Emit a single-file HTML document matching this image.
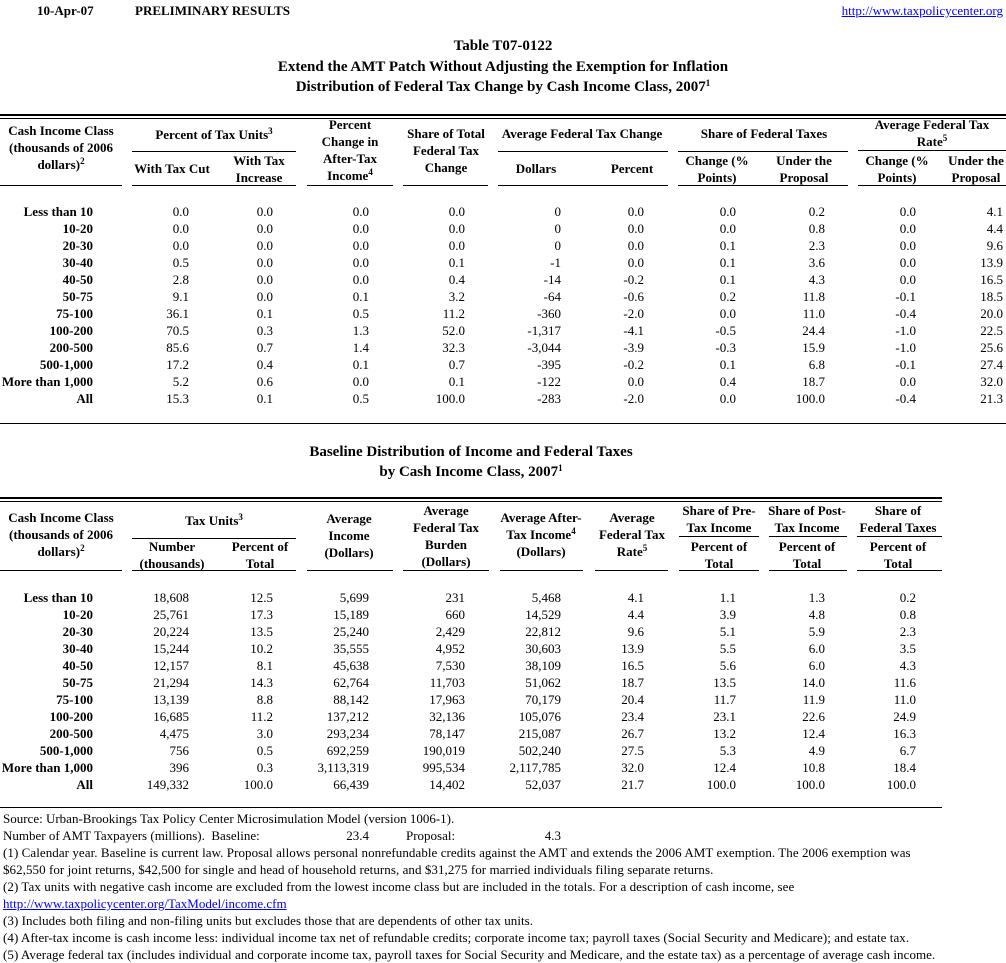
<!DOCTYPE html>
<html><head><meta charset="utf-8">
<style>
*{margin:0;padding:0;box-sizing:border-box}
body{width:1006px;height:962px;overflow:hidden;background:#fff;font-family:"Liberation Serif","Times New Roman",serif;font-size:13px;color:#000;position:relative}
.t{position:absolute;white-space:nowrap;line-height:17px;font-size:13px}
.b{font-weight:bold}
.cen{text-align:center;width:200px}
.ttl{position:absolute;left:0;width:1006px;text-align:center;font-weight:bold;font-size:15px;line-height:20px;white-space:nowrap}
.ttl2{position:absolute;left:0;width:942px;text-align:center;font-weight:bold;font-size:15px;line-height:20px;white-space:nowrap}
.ln{position:absolute;background:#000;height:1px}
.row{position:absolute;left:0;width:1006px;height:17px;line-height:17px}
.row span{position:absolute;white-space:nowrap;top:0}
.c0{right:913px;font-weight:bold}
.c1{right:817px}.c2{right:733px}.c3{right:637px}.c4{right:541px}.c5{right:445px}
.c6{right:362px}.c7{right:270px}.c8{right:181px}.c9{right:90px}.c10{right:3px}
sup{font-size:9px;vertical-align:5px;line-height:0}
.lk{color:#0000ff;text-decoration:underline}
.fn{position:absolute;left:3px;white-space:nowrap;line-height:17px;font-size:13px}
.ls{letter-spacing:0.06px}
</style></head><body>

<div class="t b" style="left:37px;top:2px">10-Apr-07</div>
<div class="t b" style="left:135px;top:2px">PRELIMINARY RESULTS</div>
<div class="t lk" style="right:3px;top:2px">http://www.taxpolicycenter.org</div>

<div class="ttl" style="top:36px">Table T07-0122</div>
<div class="ttl" style="top:57px">Extend the AMT Patch Without Adjusting the Exemption for Inflation</div>
<div class="ttl" style="top:77px">Distribution of Federal Tax Change by Cash Income Class, 2007<sup>1</sup></div>

<div class="ln" style="left:0;width:1006px;top:114px;height:2px"></div>
<div class="ln" style="left:0;width:1006px;top:118px"></div>

<!-- top header -->
<div class="t b cen" style="left:-39px;top:122px">Cash Income Class</div>
<div class="t b cen" style="left:-39px;top:139px">(thousands of 2006</div>
<div class="t b cen" style="left:-39px;top:156px">dollars)<sup>2</sup></div>

<div class="t b cen" style="left:114px;top:126px">Percent of Tax Units<sup>3</sup></div>
<div class="t b cen" style="left:72px;top:160px">With Tax Cut</div>
<div class="t b cen" style="left:159px;top:152px">With Tax</div>
<div class="t b cen" style="left:159px;top:169px">Increase</div>

<div class="t b cen" style="left:250px;top:116px">Percent</div>
<div class="t b cen" style="left:250px;top:133px">Change in</div>
<div class="t b cen" style="left:250px;top:150px">After-Tax</div>
<div class="t b cen" style="left:250px;top:167px">Income<sup>4</sup></div>

<div class="t b cen" style="left:346px;top:125px">Share of Total</div>
<div class="t b cen" style="left:346px;top:142px">Federal Tax</div>
<div class="t b cen" style="left:346px;top:159px">Change</div>

<div class="t b cen" style="left:482px;top:125px">Average Federal Tax Change</div>
<div class="t b cen" style="left:436px;top:160px">Dollars</div>
<div class="t b cen" style="left:532px;top:160px">Percent</div>

<div class="t b cen" style="left:664px;top:125px">Share of Federal Taxes</div>
<div class="t b cen" style="left:617px;top:152px">Change (%</div>
<div class="t b cen" style="left:617px;top:169px">Points)</div>
<div class="t b cen" style="left:704px;top:152px">Under the</div>
<div class="t b cen" style="left:704px;top:169px">Proposal</div>

<div class="t b cen" style="left:832px;top:116px">Average Federal Tax</div>
<div class="t b cen" style="left:832px;top:133px">Rate<sup>5</sup></div>
<div class="t b cen" style="left:797px;top:152px">Change (%</div>
<div class="t b cen" style="left:797px;top:169px">Points)</div>
<div class="t b cen" style="left:876px;top:152px">Under the</div>
<div class="t b cen" style="left:876px;top:169px">Proposal</div>

<div class="ln" style="left:132px;width:164px;top:151px"></div>
<div class="ln" style="left:498px;width:170px;top:151px"></div>
<div class="ln" style="left:678px;width:170px;top:151px"></div>
<div class="ln" style="left:858px;width:148px;top:150px"></div>

<div class="ln" style="left:0;width:122px;top:185px"></div>
<div class="ln" style="left:132px;width:164px;top:185px"></div>
<div class="ln" style="left:307px;width:86px;top:185px"></div>
<div class="ln" style="left:403px;width:85px;top:185px"></div>
<div class="ln" style="left:498px;width:170px;top:185px"></div>
<div class="ln" style="left:678px;width:170px;top:185px"></div>
<div class="ln" style="left:858px;width:148px;top:185px"></div>

<!-- top data -->
<div class="row" style="top:203px"><span class="c0">Less than 10</span><span class="c1">0.0</span><span class="c2">0.0</span><span class="c3">0.0</span><span class="c4">0.0</span><span class="c5">0</span><span class="c6">0.0</span><span class="c7">0.0</span><span class="c8">0.2</span><span class="c9">0.0</span><span class="c10">4.1</span></div>
<div class="row" style="top:220px"><span class="c0">10-20</span><span class="c1">0.0</span><span class="c2">0.0</span><span class="c3">0.0</span><span class="c4">0.0</span><span class="c5">0</span><span class="c6">0.0</span><span class="c7">0.0</span><span class="c8">0.8</span><span class="c9">0.0</span><span class="c10">4.4</span></div>
<div class="row" style="top:237px"><span class="c0">20-30</span><span class="c1">0.0</span><span class="c2">0.0</span><span class="c3">0.0</span><span class="c4">0.0</span><span class="c5">0</span><span class="c6">0.0</span><span class="c7">0.1</span><span class="c8">2.3</span><span class="c9">0.0</span><span class="c10">9.6</span></div>
<div class="row" style="top:254px"><span class="c0">30-40</span><span class="c1">0.5</span><span class="c2">0.0</span><span class="c3">0.0</span><span class="c4">0.1</span><span class="c5">-1</span><span class="c6">0.0</span><span class="c7">0.1</span><span class="c8">3.6</span><span class="c9">0.0</span><span class="c10">13.9</span></div>
<div class="row" style="top:271px"><span class="c0">40-50</span><span class="c1">2.8</span><span class="c2">0.0</span><span class="c3">0.0</span><span class="c4">0.4</span><span class="c5">-14</span><span class="c6">-0.2</span><span class="c7">0.1</span><span class="c8">4.3</span><span class="c9">0.0</span><span class="c10">16.5</span></div>
<div class="row" style="top:288px"><span class="c0">50-75</span><span class="c1">9.1</span><span class="c2">0.0</span><span class="c3">0.1</span><span class="c4">3.2</span><span class="c5">-64</span><span class="c6">-0.6</span><span class="c7">0.2</span><span class="c8">11.8</span><span class="c9">-0.1</span><span class="c10">18.5</span></div>
<div class="row" style="top:305px"><span class="c0">75-100</span><span class="c1">36.1</span><span class="c2">0.1</span><span class="c3">0.5</span><span class="c4">11.2</span><span class="c5">-360</span><span class="c6">-2.0</span><span class="c7">0.0</span><span class="c8">11.0</span><span class="c9">-0.4</span><span class="c10">20.0</span></div>
<div class="row" style="top:322px"><span class="c0">100-200</span><span class="c1">70.5</span><span class="c2">0.3</span><span class="c3">1.3</span><span class="c4">52.0</span><span class="c5">-1,317</span><span class="c6">-4.1</span><span class="c7">-0.5</span><span class="c8">24.4</span><span class="c9">-1.0</span><span class="c10">22.5</span></div>
<div class="row" style="top:339px"><span class="c0">200-500</span><span class="c1">85.6</span><span class="c2">0.7</span><span class="c3">1.4</span><span class="c4">32.3</span><span class="c5">-3,044</span><span class="c6">-3.9</span><span class="c7">-0.3</span><span class="c8">15.9</span><span class="c9">-1.0</span><span class="c10">25.6</span></div>
<div class="row" style="top:356px"><span class="c0">500-1,000</span><span class="c1">17.2</span><span class="c2">0.4</span><span class="c3">0.1</span><span class="c4">0.7</span><span class="c5">-395</span><span class="c6">-0.2</span><span class="c7">0.1</span><span class="c8">6.8</span><span class="c9">-0.1</span><span class="c10">27.4</span></div>
<div class="row" style="top:373px"><span class="c0">More than 1,000</span><span class="c1">5.2</span><span class="c2">0.6</span><span class="c3">0.0</span><span class="c4">0.1</span><span class="c5">-122</span><span class="c6">0.0</span><span class="c7">0.4</span><span class="c8">18.7</span><span class="c9">0.0</span><span class="c10">32.0</span></div>
<div class="row" style="top:390px"><span class="c0">All</span><span class="c1">15.3</span><span class="c2">0.1</span><span class="c3">0.5</span><span class="c4">100.0</span><span class="c5">-283</span><span class="c6">-2.0</span><span class="c7">0.0</span><span class="c8">100.0</span><span class="c9">-0.4</span><span class="c10">21.3</span></div>

<div class="ln" style="left:0;width:1006px;top:423px"></div>

<!-- second table -->
<div class="ttl2" style="top:442px">Baseline Distribution of Income and Federal Taxes</div>
<div class="ttl2" style="top:462px">by Cash Income Class, 2007<sup>1</sup></div>

<div class="ln" style="left:0;width:942px;top:497px;height:2px"></div>
<div class="ln" style="left:0;width:942px;top:501px"></div>

<div class="t b cen" style="left:-39px;top:509px">Cash Income Class</div>
<div class="t b cen" style="left:-39px;top:526px">(thousands of 2006</div>
<div class="t b cen" style="left:-39px;top:543px">dollars)<sup>2</sup></div>

<div class="t b cen" style="left:114px;top:512px">Tax Units<sup>3</sup></div>
<div class="t b cen" style="left:72px;top:538px">Number</div>
<div class="t b cen" style="left:72px;top:555px">(thousands)</div>
<div class="t b cen" style="left:160px;top:538px">Percent of</div>
<div class="t b cen" style="left:160px;top:555px">Total</div>

<div class="t b cen" style="left:249px;top:510px">Average</div>
<div class="t b cen" style="left:249px;top:527px">Income</div>
<div class="t b cen" style="left:249px;top:544px">(Dollars)</div>

<div class="t b cen" style="left:346px;top:502px">Average</div>
<div class="t b cen" style="left:346px;top:519px">Federal Tax</div>
<div class="t b cen" style="left:346px;top:536px">Burden</div>
<div class="t b cen" style="left:346px;top:553px">(Dollars)</div>

<div class="t b cen" style="left:441px;top:509px">Average After-</div>
<div class="t b cen" style="left:441px;top:526px">Tax Income<sup>4</sup></div>
<div class="t b cen" style="left:441px;top:543px">(Dollars)</div>

<div class="t b cen" style="left:532px;top:509px">Average</div>
<div class="t b cen" style="left:532px;top:526px">Federal Tax</div>
<div class="t b cen" style="left:532px;top:543px">Rate<sup>5</sup></div>

<div class="t b cen" style="left:619px;top:502px">Share of Pre-</div>
<div class="t b cen" style="left:619px;top:519px">Tax Income</div>
<div class="t b cen" style="left:619px;top:538px">Percent of</div>
<div class="t b cen" style="left:619px;top:555px">Total</div>

<div class="t b cen" style="left:707px;top:502px">Share of Post-</div>
<div class="t b cen" style="left:707px;top:519px">Tax Income</div>
<div class="t b cen" style="left:707px;top:538px">Percent of</div>
<div class="t b cen" style="left:707px;top:555px">Total</div>

<div class="t b cen" style="left:798px;top:502px">Share of</div>
<div class="t b cen" style="left:798px;top:519px">Federal Taxes</div>
<div class="t b cen" style="left:798px;top:538px">Percent of</div>
<div class="t b cen" style="left:798px;top:555px">Total</div>

<div class="ln" style="left:132px;width:164px;top:538px"></div>
<div class="ln" style="left:679px;width:80px;top:536px"></div>
<div class="ln" style="left:769px;width:78px;top:536px"></div>
<div class="ln" style="left:857px;width:85px;top:536px"></div>

<div class="ln" style="left:0;width:122px;top:570px"></div>
<div class="ln" style="left:132px;width:164px;top:570px"></div>
<div class="ln" style="left:307px;width:86px;top:570px"></div>
<div class="ln" style="left:403px;width:86px;top:570px"></div>
<div class="ln" style="left:500px;width:83px;top:570px"></div>
<div class="ln" style="left:595px;width:73px;top:570px"></div>
<div class="ln" style="left:679px;width:80px;top:570px"></div>
<div class="ln" style="left:769px;width:78px;top:570px"></div>
<div class="ln" style="left:857px;width:85px;top:570px"></div>

<div class="row" style="top:589px"><span class="c0">Less than 10</span><span class="c1">18,608</span><span class="c2">12.5</span><span class="c3">5,699</span><span class="c4">231</span><span class="c5">5,468</span><span class="c6">4.1</span><span class="c7">1.1</span><span class="c8">1.3</span><span class="c9">0.2</span></div>
<div class="row" style="top:606px"><span class="c0">10-20</span><span class="c1">25,761</span><span class="c2">17.3</span><span class="c3">15,189</span><span class="c4">660</span><span class="c5">14,529</span><span class="c6">4.4</span><span class="c7">3.9</span><span class="c8">4.8</span><span class="c9">0.8</span></div>
<div class="row" style="top:623px"><span class="c0">20-30</span><span class="c1">20,224</span><span class="c2">13.5</span><span class="c3">25,240</span><span class="c4">2,429</span><span class="c5">22,812</span><span class="c6">9.6</span><span class="c7">5.1</span><span class="c8">5.9</span><span class="c9">2.3</span></div>
<div class="row" style="top:640px"><span class="c0">30-40</span><span class="c1">15,244</span><span class="c2">10.2</span><span class="c3">35,555</span><span class="c4">4,952</span><span class="c5">30,603</span><span class="c6">13.9</span><span class="c7">5.5</span><span class="c8">6.0</span><span class="c9">3.5</span></div>
<div class="row" style="top:657px"><span class="c0">40-50</span><span class="c1">12,157</span><span class="c2">8.1</span><span class="c3">45,638</span><span class="c4">7,530</span><span class="c5">38,109</span><span class="c6">16.5</span><span class="c7">5.6</span><span class="c8">6.0</span><span class="c9">4.3</span></div>
<div class="row" style="top:674px"><span class="c0">50-75</span><span class="c1">21,294</span><span class="c2">14.3</span><span class="c3">62,764</span><span class="c4">11,703</span><span class="c5">51,062</span><span class="c6">18.7</span><span class="c7">13.5</span><span class="c8">14.0</span><span class="c9">11.6</span></div>
<div class="row" style="top:691px"><span class="c0">75-100</span><span class="c1">13,139</span><span class="c2">8.8</span><span class="c3">88,142</span><span class="c4">17,963</span><span class="c5">70,179</span><span class="c6">20.4</span><span class="c7">11.7</span><span class="c8">11.9</span><span class="c9">11.0</span></div>
<div class="row" style="top:708px"><span class="c0">100-200</span><span class="c1">16,685</span><span class="c2">11.2</span><span class="c3">137,212</span><span class="c4">32,136</span><span class="c5">105,076</span><span class="c6">23.4</span><span class="c7">23.1</span><span class="c8">22.6</span><span class="c9">24.9</span></div>
<div class="row" style="top:725px"><span class="c0">200-500</span><span class="c1">4,475</span><span class="c2">3.0</span><span class="c3">293,234</span><span class="c4">78,147</span><span class="c5">215,087</span><span class="c6">26.7</span><span class="c7">13.2</span><span class="c8">12.4</span><span class="c9">16.3</span></div>
<div class="row" style="top:742px"><span class="c0">500-1,000</span><span class="c1">756</span><span class="c2">0.5</span><span class="c3">692,259</span><span class="c4">190,019</span><span class="c5">502,240</span><span class="c6">27.5</span><span class="c7">5.3</span><span class="c8">4.9</span><span class="c9">6.7</span></div>
<div class="row" style="top:759px"><span class="c0">More than 1,000</span><span class="c1">396</span><span class="c2">0.3</span><span class="c3">3,113,319</span><span class="c4">995,534</span><span class="c5">2,117,785</span><span class="c6">32.0</span><span class="c7">12.4</span><span class="c8">10.8</span><span class="c9">18.4</span></div>
<div class="row" style="top:776px"><span class="c0">All</span><span class="c1">149,332</span><span class="c2">100.0</span><span class="c3">66,439</span><span class="c4">14,402</span><span class="c5">52,037</span><span class="c6">21.7</span><span class="c7">100.0</span><span class="c8">100.0</span><span class="c9">100.0</span></div>

<div class="ln" style="left:0;width:942px;top:807px"></div>

<!-- footnotes -->
<div class="fn" style="top:810px">Source: Urban-Brookings Tax Policy Center Microsimulation Model (version 1006-1).</div>
<div class="fn" style="top:827px">Number of AMT Taxpayers (millions).&nbsp; Baseline:</div>
<div class="t" style="right:637px;top:827px">23.4</div>
<div class="t" style="left:406px;top:827px">Proposal:</div>
<div class="t" style="right:445px;top:827px">4.3</div>
<div class="fn ls" style="top:844px">(1) Calendar year. Baseline is current law. Proposal allows personal nonrefundable credits against the AMT and extends the 2006 AMT exemption. The 2006 exemption was</div>
<div class="fn ls" style="top:861px">$62,550 for joint returns, $42,500 for single and head of household returns, and $31,275 for married individuals filing separate returns.</div>
<div class="fn ls" style="top:878px">(2) Tax units with negative cash income are excluded from the lowest income class but are included in the totals. For a description of cash income, see</div>
<div class="fn lk" style="top:895px">http://www.taxpolicycenter.org/TaxModel/income.cfm</div>
<div class="fn ls" style="top:912px">(3) Includes both filing and non-filing units but excludes those that are dependents of other tax units.</div>
<div class="fn ls" style="top:929px">(4) After-tax income is cash income less: individual income tax net of refundable credits; corporate income tax; payroll taxes (Social Security and Medicare); and estate tax.</div>
<div class="fn ls" style="top:946px">(5) Average federal tax (includes individual and corporate income tax, payroll taxes for Social Security and Medicare, and the estate tax) as a percentage of average cash income.</div>

</body></html>
